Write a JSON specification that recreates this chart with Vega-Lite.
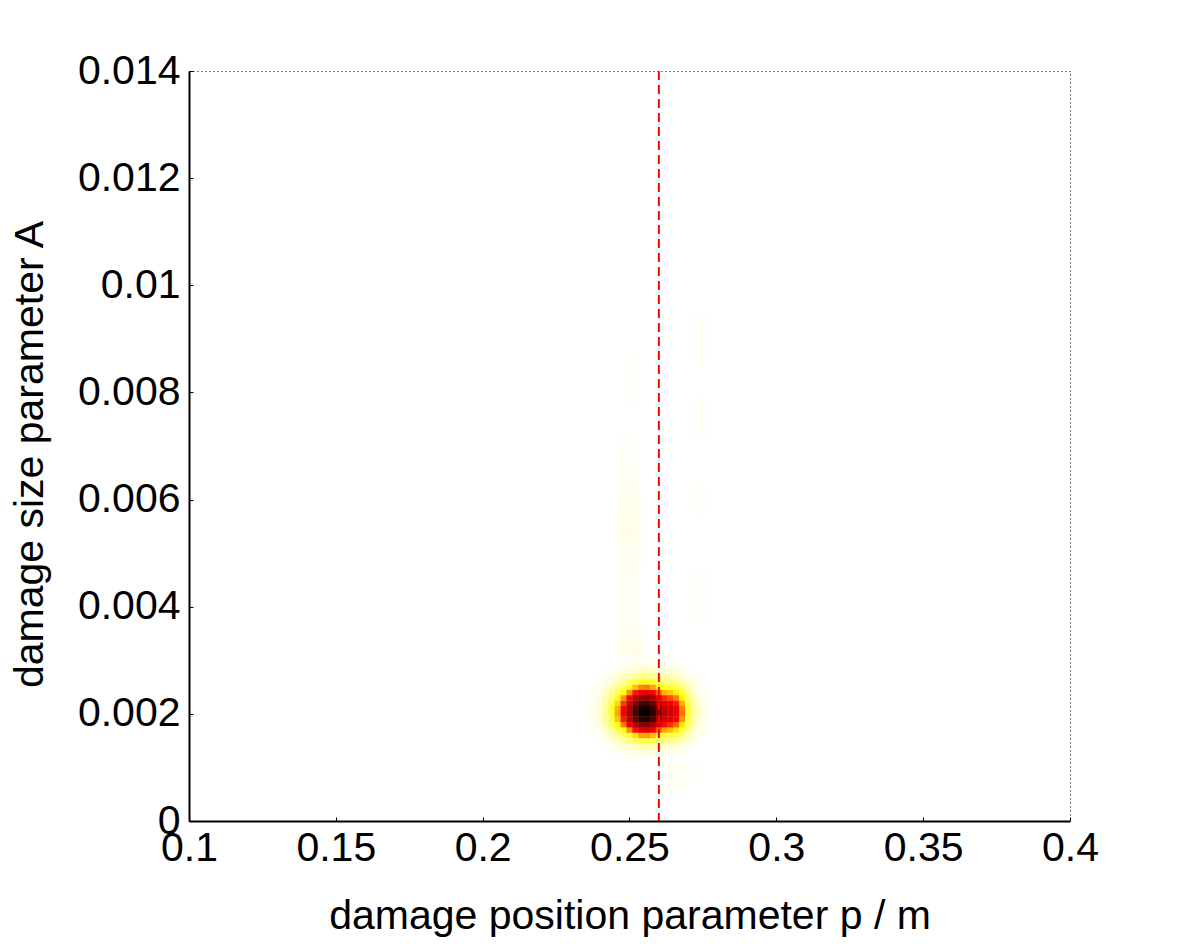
{
  "$schema": "https://vega.github.io/schema/vega-lite/v6.json",
  "width": 881,
  "height": 750,
  "autosize": {"type": "none"},
  "padding": {"left": 189, "top": 71, "right": 112, "bottom": 125},
  "background": "white",
  "config": {
    "view": {"stroke": "#000000", "strokeDash": [1, 3], "strokeWidth": 1},
    "font": "Liberation Sans"
  },
  "datasets": {
    "tail": [
      {"p":0.248,"a":0.0032,"d":0.022},{"p":0.248,"a":0.0034,"d":0.018},{"p":0.248,"a":0.0036,"d":0.015},{"p":0.248,"a":0.0038,"d":0.012},{"p":0.248,"a":0.004,"d":0.012},{"p":0.248,"a":0.0042,"d":0.012},{"p":0.248,"a":0.0044,"d":0.012},{"p":0.248,"a":0.0046,"d":0.015},{"p":0.248,"a":0.0048,"d":0.015},{"p":0.248,"a":0.005,"d":0.018},{"p":0.248,"a":0.0052,"d":0.02},{"p":0.248,"a":0.0054,"d":0.022},{"p":0.248,"a":0.0056,"d":0.022},{"p":0.248,"a":0.0058,"d":0.02},{"p":0.248,"a":0.006,"d":0.018},{"p":0.248,"a":0.0062,"d":0.015},{"p":0.248,"a":0.0064,"d":0.012},{"p":0.248,"a":0.0066,"d":0.01},{"p":0.248,"a":0.0068,"d":0.008},{"p":0.248,"a":0.007,"d":0.006},{"p":0.248,"a":0.0072,"d":0.005},
      {"p":0.252,"a":0.0032,"d":0.025},{"p":0.252,"a":0.0034,"d":0.018},{"p":0.252,"a":0.0036,"d":0.015},{"p":0.252,"a":0.0038,"d":0.012},{"p":0.252,"a":0.004,"d":0.012},{"p":0.252,"a":0.0042,"d":0.012},{"p":0.252,"a":0.0044,"d":0.012},{"p":0.252,"a":0.0046,"d":0.012},{"p":0.252,"a":0.0048,"d":0.015},{"p":0.252,"a":0.005,"d":0.015},{"p":0.252,"a":0.0052,"d":0.018},{"p":0.252,"a":0.0054,"d":0.02},{"p":0.252,"a":0.0056,"d":0.02},{"p":0.252,"a":0.0058,"d":0.018},{"p":0.252,"a":0.006,"d":0.015},{"p":0.252,"a":0.0062,"d":0.012},{"p":0.252,"a":0.0064,"d":0.01},{"p":0.252,"a":0.0066,"d":0.008},{"p":0.252,"a":0.0068,"d":0.006},{"p":0.252,"a":0.007,"d":0.005},
      {"p":0.252,"a":0.0078,"d":0.006},{"p":0.252,"a":0.008,"d":0.006},{"p":0.252,"a":0.0082,"d":0.006},{"p":0.252,"a":0.0084,"d":0.006},{"p":0.252,"a":0.0086,"d":0.005},
      {"p":0.274,"a":0.0086,"d":0.008},{"p":0.274,"a":0.0088,"d":0.01},{"p":0.274,"a":0.009,"d":0.01},{"p":0.274,"a":0.0092,"d":0.008},{"p":0.274,"a":0.0094,"d":0.005},
      {"p":0.274,"a":0.0072,"d":0.006},{"p":0.274,"a":0.0074,"d":0.008},{"p":0.274,"a":0.0076,"d":0.008},{"p":0.274,"a":0.0078,"d":0.006},
      {"p":0.274,"a":0.0058,"d":0.005},{"p":0.274,"a":0.006,"d":0.006},{"p":0.274,"a":0.0062,"d":0.005},
      {"p":0.274,"a":0.0038,"d":0.005},{"p":0.274,"a":0.004,"d":0.006},{"p":0.274,"a":0.0042,"d":0.006},{"p":0.274,"a":0.0044,"d":0.006},{"p":0.274,"a":0.0046,"d":0.005},
      {"p":0.264,"a":0.0006,"d":0.007},{"p":0.264,"a":0.0008,"d":0.01},{"p":0.264,"a":0.001,"d":0.012},
      {"p":0.268,"a":0.0006,"d":0.007},{"p":0.268,"a":0.0008,"d":0.01},{"p":0.268,"a":0.001,"d":0.012},
      {"p":0.272,"a":0.0008,"d":0.005},{"p":0.272,"a":0.001,"d":0.007}
    ],
    "grid": [
      {"p":0.248,"a":0.0012,"d":0.007},{"p":0.25,"a":0.0012,"d":0.009},{"p":0.252,"a":0.0012,"d":0.012},{"p":0.254,"a":0.0012,"d":0.014},{"p":0.256,"a":0.0012,"d":0.014},{"p":0.258,"a":0.0012,"d":0.012},{"p":0.26,"a":0.0012,"d":0.01},{"p":0.262,"a":0.0012,"d":0.008},{"p":0.264,"a":0.0012,"d":0.008},{"p":0.266,"a":0.0012,"d":0.007},{"p":0.268,"a":0.0012,"d":0.005},

      {"p":0.244,"a":0.0013,"d":0.008},{"p":0.246,"a":0.0013,"d":0.012},{"p":0.248,"a":0.0013,"d":0.018},{"p":0.25,"a":0.0013,"d":0.024},{"p":0.252,"a":0.0013,"d":0.032},{"p":0.254,"a":0.0013,"d":0.037},{"p":0.256,"a":0.0013,"d":0.038},{"p":0.258,"a":0.0013,"d":0.034},{"p":0.26,"a":0.0013,"d":0.027},{"p":0.262,"a":0.0013,"d":0.023},{"p":0.264,"a":0.0013,"d":0.021},{"p":0.266,"a":0.0013,"d":0.019},{"p":0.268,"a":0.0013,"d":0.014},{"p":0.27,"a":0.0013,"d":0.008},

      {"p":0.242,"a":0.0014,"d":0.01},{"p":0.244,"a":0.0014,"d":0.018},{"p":0.246,"a":0.0014,"d":0.028},{"p":0.248,"a":0.0014,"d":0.042},{"p":0.25,"a":0.0014,"d":0.057},{"p":0.252,"a":0.0014,"d":0.074},{"p":0.254,"a":0.0014,"d":0.086},{"p":0.256,"a":0.0014,"d":0.088},{"p":0.258,"a":0.0014,"d":0.079},{"p":0.26,"a":0.0014,"d":0.064},{"p":0.262,"a":0.0014,"d":0.053},{"p":0.264,"a":0.0014,"d":0.05},{"p":0.266,"a":0.0014,"d":0.045},{"p":0.268,"a":0.0014,"d":0.032},{"p":0.27,"a":0.0014,"d":0.018},{"p":0.272,"a":0.0014,"d":0.008},

      {"p":0.24,"a":0.0015,"d":0.009},{"p":0.242,"a":0.0015,"d":0.02},{"p":0.244,"a":0.0015,"d":0.037},{"p":0.246,"a":0.0015,"d":0.059},{"p":0.248,"a":0.0015,"d":0.086},{"p":0.25,"a":0.0015,"d":0.118},{"p":0.252,"a":0.0015,"d":0.153},{"p":0.254,"a":0.0015,"d":0.178},{"p":0.256,"a":0.0015,"d":0.182},{"p":0.258,"a":0.0015,"d":0.164},{"p":0.26,"a":0.0015,"d":0.132},{"p":0.262,"a":0.0015,"d":0.11},{"p":0.264,"a":0.0015,"d":0.103},{"p":0.266,"a":0.0015,"d":0.092},{"p":0.268,"a":0.0015,"d":0.066},{"p":0.27,"a":0.0015,"d":0.037},{"p":0.272,"a":0.0015,"d":0.017},{"p":0.274,"a":0.0015,"d":0.007},

      {"p":0.238,"a":0.0016,"d":0.007},{"p":0.24,"a":0.0016,"d":0.017},{"p":0.242,"a":0.0016,"d":0.036},{"p":0.244,"a":0.0016,"d":0.066},{"p":0.246,"a":0.0016,"d":0.106},{"p":0.248,"a":0.0016,"d":0.156},{"p":0.25,"a":0.0016,"d":0.212},{"p":0.252,"a":0.0016,"d":0.275},{"p":0.254,"a":0.0016,"d":0.321},{"p":0.256,"a":0.0016,"d":0.328},{"p":0.258,"a":0.0016,"d":0.295},{"p":0.26,"a":0.0016,"d":0.238},{"p":0.262,"a":0.0016,"d":0.199},{"p":0.264,"a":0.0016,"d":0.185},{"p":0.266,"a":0.0016,"d":0.166},{"p":0.268,"a":0.0016,"d":0.119},{"p":0.27,"a":0.0016,"d":0.066},{"p":0.272,"a":0.0016,"d":0.03},{"p":0.274,"a":0.0016,"d":0.013},{"p":0.276,"a":0.0016,"d":0.007},

      {"p":0.236,"a":0.0017,"d":0.005},{"p":0.238,"a":0.0017,"d":0.011},{"p":0.24,"a":0.0017,"d":0.027},{"p":0.242,"a":0.0017,"d":0.058},{"p":0.244,"a":0.0017,"d":0.106},{"p":0.246,"a":0.0017,"d":0.17},{"p":0.248,"a":0.0017,"d":0.249},{"p":0.25,"a":0.0017,"d":0.339},{"p":0.252,"a":0.0017,"d":0.44},{"p":0.254,"a":0.0017,"d":0.514},{"p":0.256,"a":0.0017,"d":0.525},{"p":0.258,"a":0.0017,"d":0.472},{"p":0.26,"a":0.0017,"d":0.382},{"p":0.262,"a":0.0017,"d":0.318},{"p":0.264,"a":0.0017,"d":0.297},{"p":0.266,"a":0.0017,"d":0.265},{"p":0.268,"a":0.0017,"d":0.191},{"p":0.27,"a":0.0017,"d":0.106},{"p":0.272,"a":0.0017,"d":0.048},{"p":0.274,"a":0.0017,"d":0.021},{"p":0.276,"a":0.0017,"d":0.011},

      {"p":0.236,"a":0.0018,"d":0.007},{"p":0.238,"a":0.0018,"d":0.015},{"p":0.24,"a":0.0018,"d":0.037},{"p":0.242,"a":0.0018,"d":0.081},{"p":0.244,"a":0.0018,"d":0.148},{"p":0.246,"a":0.0018,"d":0.237},{"p":0.248,"a":0.0018,"d":0.348},{"p":0.25,"a":0.0018,"d":0.474},{"p":0.252,"a":0.0018,"d":0.614},{"p":0.254,"a":0.0018,"d":0.718},{"p":0.256,"a":0.0018,"d":0.733},{"p":0.258,"a":0.0018,"d":0.659},{"p":0.26,"a":0.0018,"d":0.533},{"p":0.262,"a":0.0018,"d":0.444},{"p":0.264,"a":0.0018,"d":0.414},{"p":0.266,"a":0.0018,"d":0.37},{"p":0.268,"a":0.0018,"d":0.266},{"p":0.27,"a":0.0018,"d":0.148},{"p":0.272,"a":0.0018,"d":0.067},{"p":0.274,"a":0.0018,"d":0.03},{"p":0.276,"a":0.0018,"d":0.015},

      {"p":0.236,"a":0.0019,"d":0.009},{"p":0.238,"a":0.0019,"d":0.018},{"p":0.24,"a":0.0019,"d":0.046},{"p":0.242,"a":0.0019,"d":0.101},{"p":0.244,"a":0.0019,"d":0.184},{"p":0.246,"a":0.0019,"d":0.294},{"p":0.248,"a":0.0019,"d":0.431},{"p":0.25,"a":0.0019,"d":0.588},{"p":0.252,"a":0.0019,"d":0.762},{"p":0.254,"a":0.0019,"d":0.89},{"p":0.256,"a":0.0019,"d":0.909},{"p":0.258,"a":0.0019,"d":0.817},{"p":0.26,"a":0.0019,"d":0.661},{"p":0.262,"a":0.0019,"d":0.551},{"p":0.264,"a":0.0019,"d":0.514},{"p":0.266,"a":0.0019,"d":0.459},{"p":0.268,"a":0.0019,"d":0.33},{"p":0.27,"a":0.0019,"d":0.184},{"p":0.272,"a":0.0019,"d":0.083},{"p":0.274,"a":0.0019,"d":0.037},{"p":0.276,"a":0.0019,"d":0.018},

      {"p":0.236,"a":0.002,"d":0.01},{"p":0.238,"a":0.002,"d":0.02},{"p":0.24,"a":0.002,"d":0.05},{"p":0.242,"a":0.002,"d":0.11},{"p":0.244,"a":0.002,"d":0.2},{"p":0.246,"a":0.002,"d":0.319},{"p":0.248,"a":0.002,"d":0.469},{"p":0.25,"a":0.002,"d":0.639},{"p":0.252,"a":0.002,"d":0.828},{"p":0.254,"a":0.002,"d":0.968},{"p":0.256,"a":0.002,"d":0.988},{"p":0.258,"a":0.002,"d":0.888},{"p":0.26,"a":0.002,"d":0.719},{"p":0.262,"a":0.002,"d":0.599},{"p":0.264,"a":0.002,"d":0.559},{"p":0.266,"a":0.002,"d":0.499},{"p":0.268,"a":0.002,"d":0.359},{"p":0.27,"a":0.002,"d":0.2},{"p":0.272,"a":0.002,"d":0.09},{"p":0.274,"a":0.002,"d":0.04},{"p":0.276,"a":0.002,"d":0.02},

      {"p":0.236,"a":0.0021,"d":0.01},{"p":0.238,"a":0.0021,"d":0.019},{"p":0.24,"a":0.0021,"d":0.048},{"p":0.242,"a":0.0021,"d":0.107},{"p":0.244,"a":0.0021,"d":0.194},{"p":0.246,"a":0.0021,"d":0.31},{"p":0.248,"a":0.0021,"d":0.455},{"p":0.25,"a":0.0021,"d":0.62},{"p":0.252,"a":0.0021,"d":0.804},{"p":0.254,"a":0.0021,"d":0.94},{"p":0.256,"a":0.0021,"d":0.959},{"p":0.258,"a":0.0021,"d":0.862},{"p":0.26,"a":0.0021,"d":0.698},{"p":0.262,"a":0.0021,"d":0.581},{"p":0.264,"a":0.0021,"d":0.543},{"p":0.266,"a":0.0021,"d":0.485},{"p":0.268,"a":0.0021,"d":0.349},{"p":0.27,"a":0.0021,"d":0.194},{"p":0.272,"a":0.0021,"d":0.087},{"p":0.274,"a":0.0021,"d":0.039},{"p":0.276,"a":0.0021,"d":0.019},

      {"p":0.236,"a":0.0022,"d":0.009},{"p":0.238,"a":0.0022,"d":0.017},{"p":0.24,"a":0.0022,"d":0.043},{"p":0.242,"a":0.0022,"d":0.095},{"p":0.244,"a":0.0022,"d":0.172},{"p":0.246,"a":0.0022,"d":0.275},{"p":0.248,"a":0.0022,"d":0.404},{"p":0.25,"a":0.0022,"d":0.55},{"p":0.252,"a":0.0022,"d":0.714},{"p":0.254,"a":0.0022,"d":0.834},{"p":0.256,"a":0.0022,"d":0.851},{"p":0.258,"a":0.0022,"d":0.765},{"p":0.26,"a":0.0022,"d":0.619},{"p":0.262,"a":0.0022,"d":0.516},{"p":0.264,"a":0.0022,"d":0.482},{"p":0.266,"a":0.0022,"d":0.43},{"p":0.268,"a":0.0022,"d":0.31},{"p":0.27,"a":0.0022,"d":0.172},{"p":0.272,"a":0.0022,"d":0.077},{"p":0.274,"a":0.0022,"d":0.034},{"p":0.276,"a":0.0022,"d":0.017},

      {"p":0.236,"a":0.0023,"d":0.007},{"p":0.238,"a":0.0023,"d":0.014},{"p":0.24,"a":0.0023,"d":0.035},{"p":0.242,"a":0.0023,"d":0.077},{"p":0.244,"a":0.0023,"d":0.14},{"p":0.246,"a":0.0023,"d":0.224},{"p":0.248,"a":0.0023,"d":0.329},{"p":0.25,"a":0.0023,"d":0.448},{"p":0.252,"a":0.0023,"d":0.581},{"p":0.254,"a":0.0023,"d":0.679},{"p":0.256,"a":0.0023,"d":0.693},{"p":0.258,"a":0.0023,"d":0.623},{"p":0.26,"a":0.0023,"d":0.504},{"p":0.262,"a":0.0023,"d":0.42},{"p":0.264,"a":0.0023,"d":0.392},{"p":0.266,"a":0.0023,"d":0.35},{"p":0.268,"a":0.0023,"d":0.252},{"p":0.27,"a":0.0023,"d":0.14},{"p":0.272,"a":0.0023,"d":0.063},{"p":0.274,"a":0.0023,"d":0.028},{"p":0.276,"a":0.0023,"d":0.014},

      {"p":0.236,"a":0.0024,"d":0.005},{"p":0.238,"a":0.0024,"d":0.01},{"p":0.24,"a":0.0024,"d":0.026},{"p":0.242,"a":0.0024,"d":0.057},{"p":0.244,"a":0.0024,"d":0.104},{"p":0.246,"a":0.0024,"d":0.166},{"p":0.248,"a":0.0024,"d":0.244},{"p":0.25,"a":0.0024,"d":0.333},{"p":0.252,"a":0.0024,"d":0.432},{"p":0.254,"a":0.0024,"d":0.504},{"p":0.256,"a":0.0024,"d":0.515},{"p":0.258,"a":0.0024,"d":0.463},{"p":0.26,"a":0.0024,"d":0.374},{"p":0.262,"a":0.0024,"d":0.312},{"p":0.264,"a":0.0024,"d":0.291},{"p":0.266,"a":0.0024,"d":0.26},{"p":0.268,"a":0.0024,"d":0.187},{"p":0.27,"a":0.0024,"d":0.104},{"p":0.272,"a":0.0024,"d":0.047},{"p":0.274,"a":0.0024,"d":0.021},{"p":0.276,"a":0.0024,"d":0.01},

      {"p":0.238,"a":0.0025,"d":0.007},{"p":0.24,"a":0.0025,"d":0.018},{"p":0.242,"a":0.0025,"d":0.039},{"p":0.244,"a":0.0025,"d":0.071},{"p":0.246,"a":0.0025,"d":0.114},{"p":0.248,"a":0.0025,"d":0.167},{"p":0.25,"a":0.0025,"d":0.227},{"p":0.252,"a":0.0025,"d":0.295},{"p":0.254,"a":0.0025,"d":0.344},{"p":0.256,"a":0.0025,"d":0.351},{"p":0.258,"a":0.0025,"d":0.316},{"p":0.26,"a":0.0025,"d":0.256},{"p":0.262,"a":0.0025,"d":0.213},{"p":0.264,"a":0.0025,"d":0.199},{"p":0.266,"a":0.0025,"d":0.178},{"p":0.268,"a":0.0025,"d":0.128},{"p":0.27,"a":0.0025,"d":0.071},{"p":0.272,"a":0.0025,"d":0.032},{"p":0.274,"a":0.0025,"d":0.014},{"p":0.276,"a":0.0025,"d":0.007},

      {"p":0.24,"a":0.0026,"d":0.011},{"p":0.242,"a":0.0026,"d":0.024},{"p":0.244,"a":0.0026,"d":0.044},{"p":0.246,"a":0.0026,"d":0.07},{"p":0.248,"a":0.0026,"d":0.103},{"p":0.25,"a":0.0026,"d":0.141},{"p":0.252,"a":0.0026,"d":0.183},{"p":0.254,"a":0.0026,"d":0.213},{"p":0.256,"a":0.0026,"d":0.218},{"p":0.258,"a":0.0026,"d":0.196},{"p":0.26,"a":0.0026,"d":0.158},{"p":0.262,"a":0.0026,"d":0.132},{"p":0.264,"a":0.0026,"d":0.123},{"p":0.266,"a":0.0026,"d":0.11},{"p":0.268,"a":0.0026,"d":0.079},{"p":0.27,"a":0.0026,"d":0.044},{"p":0.272,"a":0.0026,"d":0.02},{"p":0.274,"a":0.0026,"d":0.009},

      {"p":0.24,"a":0.0027,"d":0.006},{"p":0.242,"a":0.0027,"d":0.014},{"p":0.244,"a":0.0027,"d":0.025},{"p":0.246,"a":0.0027,"d":0.04},{"p":0.248,"a":0.0027,"d":0.059},{"p":0.25,"a":0.0027,"d":0.081},{"p":0.252,"a":0.0027,"d":0.105},{"p":0.254,"a":0.0027,"d":0.122},{"p":0.256,"a":0.0027,"d":0.125},{"p":0.258,"a":0.0027,"d":0.112},{"p":0.26,"a":0.0027,"d":0.091},{"p":0.262,"a":0.0027,"d":0.076},{"p":0.264,"a":0.0027,"d":0.071},{"p":0.266,"a":0.0027,"d":0.063},{"p":0.268,"a":0.0027,"d":0.045},{"p":0.27,"a":0.0027,"d":0.025},{"p":0.272,"a":0.0027,"d":0.011},{"p":0.274,"a":0.0027,"d":0.005},

      {"p":0.242,"a":0.0028,"d":0.007},{"p":0.244,"a":0.0028,"d":0.013},{"p":0.246,"a":0.0028,"d":0.021},{"p":0.248,"a":0.0028,"d":0.031},{"p":0.25,"a":0.0028,"d":0.042},{"p":0.252,"a":0.0028,"d":0.055},{"p":0.254,"a":0.0028,"d":0.064},{"p":0.256,"a":0.0028,"d":0.065},{"p":0.258,"a":0.0028,"d":0.059},{"p":0.26,"a":0.0028,"d":0.048},{"p":0.262,"a":0.0028,"d":0.04},{"p":0.264,"a":0.0028,"d":0.037},{"p":0.266,"a":0.0028,"d":0.033},{"p":0.268,"a":0.0028,"d":0.024},{"p":0.27,"a":0.0028,"d":0.013},{"p":0.272,"a":0.0028,"d":0.006},

      {"p":0.244,"a":0.0029,"d":0.006},{"p":0.246,"a":0.0029,"d":0.01},{"p":0.248,"a":0.0029,"d":0.015},{"p":0.25,"a":0.0029,"d":0.02},{"p":0.252,"a":0.0029,"d":0.026},{"p":0.254,"a":0.0029,"d":0.03},{"p":0.256,"a":0.0029,"d":0.031},{"p":0.258,"a":0.0029,"d":0.028},{"p":0.26,"a":0.0029,"d":0.022},{"p":0.262,"a":0.0029,"d":0.019},{"p":0.264,"a":0.0029,"d":0.017},{"p":0.266,"a":0.0029,"d":0.016},{"p":0.268,"a":0.0029,"d":0.011},{"p":0.27,"a":0.0029,"d":0.006},

      {"p":0.248,"a":0.003,"d":0.007},{"p":0.25,"a":0.003,"d":0.009},{"p":0.252,"a":0.003,"d":0.012},{"p":0.254,"a":0.003,"d":0.014},{"p":0.256,"a":0.003,"d":0.014},{"p":0.258,"a":0.003,"d":0.012},{"p":0.26,"a":0.003,"d":0.01},{"p":0.262,"a":0.003,"d":0.008},{"p":0.264,"a":0.003,"d":0.008},{"p":0.266,"a":0.003,"d":0.007}
    ],
    "marker": [{"p": 0.26}]
  },
  "layer": [
    {
      "data": {"name": "tail"},
      "mark": {"type": "rect", "width": 11.9, "height": 11},
      "encoding": {
        "x": {
          "field": "p", "type": "quantitative",
          "scale": {"domain": [0.1, 0.4], "nice": false, "zero": false},
          "axis": {
            "values": [0.1, 0.15, 0.2, 0.25, 0.3, 0.35, 0.4],
            "format": "~g",
            "title": "damage position parameter p / m",
            "grid": false,
            "labelFontSize": 41, "titleFontSize": 41, "titleFontWeight": "normal",
            "labelColor": "#000000", "titleColor": "#000000",
            "domainColor": "#000000", "domainWidth": 2,
            "tickColor": "#000000", "tickSize": -4, "tickWidth": 1,
            "labelPadding": 11, "labelFlush": false, "labelOverlap": false,
            "titleY": 107, "titleBaseline": "alphabetic"
          }
        },
        "y": {
          "field": "a", "type": "quantitative",
          "scale": {"domain": [0, 0.014], "nice": false, "zero": false},
          "axis": {
            "values": [0, 0.002, 0.004, 0.006, 0.008, 0.01, 0.012, 0.014],
            "format": "~g",
            "title": "damage size parameter A",
            "grid": false,
            "labelFontSize": 41, "titleFontSize": 41, "titleFontWeight": "normal",
            "labelColor": "#000000", "titleColor": "#000000",
            "domainColor": "#000000", "domainWidth": 2,
            "tickColor": "#000000", "tickSize": -4, "tickWidth": 1,
            "labelPadding": 13, "labelFlush": false, "labelOverlap": false,
            "titleX": -147, "titleY": 383, "titleAngle": -90,
            "titleBaseline": "alphabetic", "titleAlign": "center"
          }
        },
        "color": {
          "field": "d", "type": "quantitative",
          "scale": {"domain": [0, 0.25, 0.45, 1], "range": ["#ffffff", "#ffff00", "#ff0000", "#000000"], "interpolate": "rgb", "clamp": true},
          "legend": null
        }
      }
    },
    {
      "data": {"name": "grid"},
      "mark": {"type": "rect", "width": 6.2, "height": 5.7},
      "encoding": {
        "x": {"field": "p", "type": "quantitative", "scale": {"domain": [0.1, 0.4], "nice": false, "zero": false}},
        "y": {"field": "a", "type": "quantitative", "scale": {"domain": [0, 0.014], "nice": false, "zero": false}},
        "color": {
          "field": "d", "type": "quantitative",
          "scale": {"domain": [0, 0.25, 0.45, 1], "range": ["#ffffff", "#ffff00", "#ff0000", "#000000"], "interpolate": "rgb", "clamp": true},
          "legend": null
        }
      }
    },
    {
      "data": {"name": "marker"},
      "mark": {"type": "rule", "color": "#ff0000", "strokeWidth": 2, "strokeDash": [9, 5]},
      "encoding": {
        "x": {"field": "p", "type": "quantitative", "scale": {"domain": [0.1, 0.4], "nice": false, "zero": false}}
      }
    }
  ]
}
